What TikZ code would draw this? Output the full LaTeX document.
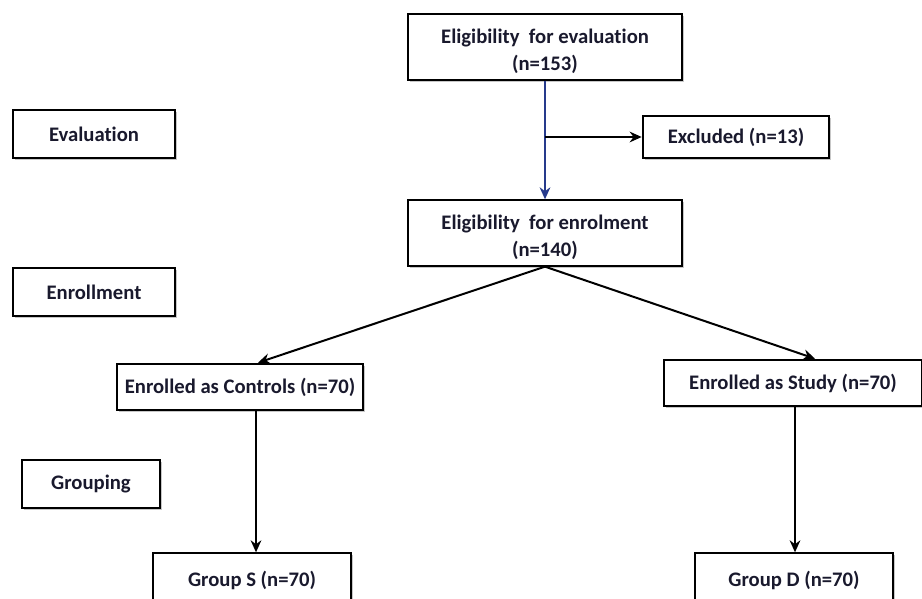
\documentclass[tikz,border=0pt]{standalone}
\usepackage{fontspec}
\setmainfont[Ligatures=NoCommon]{Carlito}
\usetikzlibrary{positioning,arrows.meta,calc,shadows}
\definecolor{lineblue}{RGB}{38,58,140}
\definecolor{txt}{RGB}{25,25,45}
\tikzset{
  box/.style={rectangle,draw=black,line width=1.5pt,fill=white,align=center,font=\bfseries\fontsize{15.5}{20}\selectfont,text=txt,
    drop shadow={shadow xshift=1.6pt,shadow yshift=-1.6pt,fill=gray!55,opacity=0.8}},
  stage/.style={box},
  sip/.style={-{Stealth[length=9pt,width=8pt]},line width=1.5pt},
}

\begin{document}
\begin{tikzpicture}[x=0.75pt,y=-0.75pt]
  \useasboundingbox (0,0) rectangle (922,599);
  % stages
  \node[stage,minimum width=122pt,minimum height=36pt] (evalst) at (94,134) {Evaluation};
  \node[stage,minimum width=122pt,minimum height=36pt] (enrst) at (94,292) {Enrollment};
  \node[stage,minimum width=103pt,minimum height=36pt] (grpst) at (91,484) {Grouping};
  % flow
  \node[box,minimum width=206pt,minimum height=49pt] (elig) at (545,47) {\rule{0pt}{17pt}Eligibility\ \ for evaluation\\(n=153)};
  \node[box,minimum width=140pt,minimum height=32pt] (excl) at (736,137) {Excluded (n=13)};
  \node[box,minimum width=206pt,minimum height=49pt] (enrol) at (545,233) {\rule{0pt}{17pt}Eligibility\ \ for enrolment\\(n=140)};
  \node[box,minimum width=184pt,minimum height=35pt] (ctrl) at (240,387) {Enrolled as Controls (n=70)};
  \node[box,minimum width=193pt,minimum height=35pt] (study) at (793,383) {Enrolled as Study (n=70)};
  \node[box,minimum width=149pt,minimum height=40pt] (grps) at (252,580) {Group S (n=70)};
  \node[box,minimum width=148pt,minimum height=40pt] (grpd) at (794,580) {Group D (n=70)};
  \coordinate (br) at (elig.south |- excl.west);
  \coordinate (ctrlin) at ($(ctrl.north)+(18,0)$);
  \coordinate (studyin) at ($(study.north)+(22,0)$);
  \coordinate (ctrlout) at ($(ctrl.south)+(16,0)$);
  \coordinate (studyout) at ($(study.south)+(2,0)$);
  % connectors
  \draw[sip,draw=lineblue,fill=lineblue] (elig) -- (enrol);
  \draw[sip] (br) -- (excl);
  \draw[sip] (enrol.south) -- (ctrlin);
  \draw[sip] (enrol.south) -- (studyin);
  \draw[sip] (ctrlout) -- (ctrlout |- grps.north);
  \draw[sip] (studyout) -- (studyout |- grpd.north);
\end{tikzpicture}
\end{document}
